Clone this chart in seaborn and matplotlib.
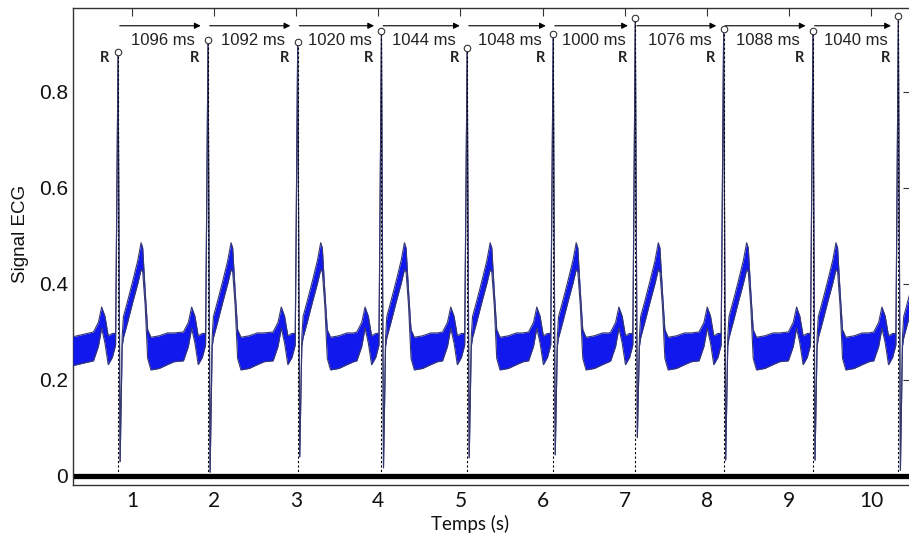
#!/usr/bin/env python3
"""ECG trace with detected R peaks and RR intervals."""

import numpy as np
import pandas as pd
import matplotlib
matplotlib.use("Agg")
import matplotlib.pyplot as plt
import seaborn as sns

sns.set_style("white")

# R peaks and RR intervals
first_r = 0.830                      # time of first R peak (s)
rr_ms = [1096, 1092, 1020, 1044, 1048, 1000, 1076, 1088, 1040]
r_peak = [0.883, 0.908, 0.904, 0.927, 0.892, 0.921, 0.954, 0.931, 0.927, 0.958]
s_min = [0.030, 0.008, 0.040, 0.017, 0.038, 0.044, 0.080, 0.033, 0.033, 0.012]

# average beat shape around each R peak: time offset, level, half-width of noise band
pre_t = [-0.30, -0.24, -0.20, -0.16, -0.12, -0.07, -0.03]
pre_mid = [0.270, 0.295, 0.330, 0.305, 0.262, 0.272, 0.285]
pre_half = [0.030, 0.025, 0.022, 0.028, 0.030, 0.025, 0.012]
post_t = [0.05, 0.065, 0.12, 0.18, 0.24, 0.28, 0.30, 0.33, 0.36, 0.40, 0.50, 0.60, 0.68]
post_mid = [0.280, 0.310, 0.345, 0.385, 0.425, 0.458, 0.450, 0.370, 0.275, 0.255, 0.258, 0.265, 0.268]
post_half = [0.010, 0.022, 0.022, 0.022, 0.024, 0.028, 0.025, 0.015, 0.030, 0.034, 0.034, 0.033, 0.030]
start_level = 0.26

r_times = first_r + np.concatenate([[0], np.cumsum(rr_ms) / 1000.0])

# assemble the trace
t, mid, half = [0.28], [start_level], [0.03]
for rt, pk, sm in zip(r_times, r_peak, s_min):
    t += [rt + d for d in pre_t]
    mid += pre_mid
    half += pre_half
    t += [rt, rt + 0.025]
    mid += [pk, sm]
    half += [0.0, 0.0]
    t += [rt + d for d in post_t]
    mid += post_mid
    half += post_half
ecg = pd.DataFrame({'t': t, 'mid': mid, 'half': half})
ecg['lo'] = ecg['mid'] - ecg['half']
ecg['hi'] = ecg['mid'] + ecg['half']

fig = plt.figure(figsize=(9.09, 5.37), dpi=100)
ax = fig.add_axes([73 / 909, 1 - 485 / 537, (911 - 73) / 909, (485 - 8) / 537])

# detection line at zero
ax.axhline(0, color='black', lw=3.8, zorder=1)

# signal: blue noise band with dark edges
ax.fill_between(ecg['t'], ecg['lo'], ecg['hi'], color='#1018ee', lw=0, zorder=3)
sns.lineplot(data=ecg, x='t', y='lo', sort=False, estimator=None,
             color='#35386e', lw=0.8, ax=ax, zorder=4)
sns.lineplot(data=ecg, x='t', y='hi', sort=False, estimator=None,
             color='#35386e', lw=0.8, ax=ax, zorder=4)

# dotted markers from each R peak down to zero
ax.vlines(r_times, 0, r_peak, colors='black', linestyles=(0, (2, 2)), lw=0.8, zorder=5)

# R peak circles
sns.scatterplot(x=r_times, y=r_peak, marker='o', s=22, facecolor='white',
                edgecolor='#333333', linewidth=0.8, ax=ax, zorder=6)

for rt in r_times:
    ax.text(rt - 0.16, 0.87, 'R', fontsize=10.5, fontweight='bold', family='Lato',
            ha='center', va='center', color='#222222')

# RR interval arrows and labels
for i, ms in enumerate(rr_ms):
    ax.annotate('', xy=(r_times[i + 1] - 0.09, 0.938), xytext=(r_times[i] + 0.02, 0.938),
                arrowprops=dict(arrowstyle='-|>', color='black', lw=0.8,
                                mutation_scale=9, shrinkA=0, shrinkB=0))
    ax.text((r_times[i] + r_times[i + 1]) / 2, 0.907, f'{ms} ms', fontsize=12,
            family='Liberation Sans', ha='center', va='center', color='#222222')

ax.set_xlim(0.281, 10.488)
ax.set_ylim(-0.0188, 0.975)
ax.set_xticks(range(1, 11))
ax.set_yticks([0, 0.2, 0.4, 0.6, 0.8])
ax.set_yticklabels(['0', '0.2', '0.4', '0.6', '0.8'])
ax.tick_params(direction='in', top=True, right=True, length=6, width=0.8,
               colors='#333333', labelcolor='#111111')
ax.tick_params(axis='x', pad=4)
for lab in ax.get_xticklabels():
    lab.set_family('Lato')
    lab.set_fontsize(15)
for lab in ax.get_yticklabels():
    lab.set_family('Liberation Sans')
    lab.set_fontsize(15)
for sp in ax.spines.values():
    sp.set_color('#333333')
    sp.set_linewidth(1.0)

ax.set_xlabel('Temps (s)', fontsize=13.5, family='Lato', color='#111111')
ax.set_ylabel('Signal ECG', fontsize=13.5, family='Liberation Sans', color='#111111')
ax.xaxis.set_label_coords(0.474, -0.062)
ax.yaxis.set_label_coords(-0.0525, 0.526)

fig.savefig('out.png', dpi=100)
